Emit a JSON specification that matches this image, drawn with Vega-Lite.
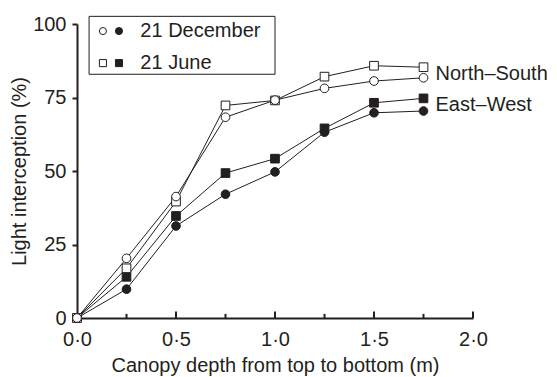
{
  "$schema": "https://vega.github.io/schema/vega-lite/v6.json",
  "width": 396,
  "height": 294,
  "autosize": {"type": "none"},
  "padding": {"left": 77, "top": 24, "right": 84, "bottom": 59},
  "background": "white",
  "config": {
    "view": {"stroke": null},
    "font": "Liberation Sans",
    "text": {"font": "Liberation Sans"}
  },
  "datasets": {
    "main": [
      {"series": "EW Jun", "orient": "EW", "date": "Jun", "depth": 0, "value": 0},
      {"series": "EW Jun", "orient": "EW", "date": "Jun", "depth": 0.25, "value": 14.0},
      {"series": "EW Jun", "orient": "EW", "date": "Jun", "depth": 0.5, "value": 34.7},
      {"series": "EW Jun", "orient": "EW", "date": "Jun", "depth": 0.75, "value": 49.3},
      {"series": "EW Jun", "orient": "EW", "date": "Jun", "depth": 1.0, "value": 54.2},
      {"series": "EW Jun", "orient": "EW", "date": "Jun", "depth": 1.25, "value": 64.5},
      {"series": "EW Jun", "orient": "EW", "date": "Jun", "depth": 1.5, "value": 73.2},
      {"series": "EW Jun", "orient": "EW", "date": "Jun", "depth": 1.75, "value": 74.7},
      {"series": "EW Dec", "orient": "EW", "date": "Dec", "depth": 0, "value": 0},
      {"series": "EW Dec", "orient": "EW", "date": "Dec", "depth": 0.25, "value": 9.8},
      {"series": "EW Dec", "orient": "EW", "date": "Dec", "depth": 0.5, "value": 31.3},
      {"series": "EW Dec", "orient": "EW", "date": "Dec", "depth": 0.75, "value": 42.1},
      {"series": "EW Dec", "orient": "EW", "date": "Dec", "depth": 1.0, "value": 49.7},
      {"series": "EW Dec", "orient": "EW", "date": "Dec", "depth": 1.25, "value": 63.2},
      {"series": "EW Dec", "orient": "EW", "date": "Dec", "depth": 1.5, "value": 69.8},
      {"series": "EW Dec", "orient": "EW", "date": "Dec", "depth": 1.75, "value": 70.4},
      {"series": "NS Jun", "orient": "NS", "date": "Jun", "depth": 0, "value": 0},
      {"series": "NS Jun", "orient": "NS", "date": "Jun", "depth": 0.25, "value": 16.9},
      {"series": "NS Jun", "orient": "NS", "date": "Jun", "depth": 0.5, "value": 39.6},
      {"series": "NS Jun", "orient": "NS", "date": "Jun", "depth": 0.75, "value": 72.3},
      {"series": "NS Jun", "orient": "NS", "date": "Jun", "depth": 1.0, "value": 74.0},
      {"series": "NS Jun", "orient": "NS", "date": "Jun", "depth": 1.25, "value": 82.1},
      {"series": "NS Jun", "orient": "NS", "date": "Jun", "depth": 1.5, "value": 85.8},
      {"series": "NS Jun", "orient": "NS", "date": "Jun", "depth": 1.75, "value": 85.3},
      {"series": "NS Dec", "orient": "NS", "date": "Dec", "depth": 0, "value": 0},
      {"series": "NS Dec", "orient": "NS", "date": "Dec", "depth": 0.25, "value": 20.3},
      {"series": "NS Dec", "orient": "NS", "date": "Dec", "depth": 0.5, "value": 41.3},
      {"series": "NS Dec", "orient": "NS", "date": "Dec", "depth": 0.75, "value": 68.3},
      {"series": "NS Dec", "orient": "NS", "date": "Dec", "depth": 1.0, "value": 74.1},
      {"series": "NS Dec", "orient": "NS", "date": "Dec", "depth": 1.25, "value": 78.1},
      {"series": "NS Dec", "orient": "NS", "date": "Dec", "depth": 1.5, "value": 80.6},
      {"series": "NS Dec", "orient": "NS", "date": "Dec", "depth": 1.75, "value": 81.7}
    ],
    "majorTicks": [{"depth": 0.5}, {"depth": 1.0}, {"depth": 1.5}, {"depth": 2.0}],
    "minorTicks": [{"depth": 0.25}, {"depth": 0.75}, {"depth": 1.25}, {"depth": 1.75}],
    "box": [{"depth": 0.061, "depth2": 1.0, "value": 82.9, "value2": 102.6}],
    "legendSymbols": [
      {"depth": 0.131, "value": 97.6, "date": "Dec", "orient": "NS"},
      {"depth": 0.212, "value": 97.6, "date": "Dec", "orient": "EW"},
      {"depth": 0.131, "value": 86.7, "date": "Jun", "orient": "NS"},
      {"depth": 0.212, "value": 86.7, "date": "Jun", "orient": "EW"}
    ],
    "legendText": [
      {"depth": 0.32, "value": 97.6, "label": "21 December"},
      {"depth": 0.32, "value": 86.7, "label": "21 June"}
    ],
    "seriesLabels": [
      {"depth": 1.75, "value": 83.0, "label": "North–South"},
      {"depth": 1.75, "value": 72.6, "label": "East–West"}
    ]
  },
  "layer": [
    {
      "data": {"name": "main"},
      "mark": {"type": "line", "color": "#231f20", "strokeWidth": 1},
      "encoding": {
        "x": {
          "field": "depth", "type": "quantitative",
          "scale": {"domain": [0, 2], "nice": false, "zero": false},
          "axis": {
            "title": "Canopy depth from top to bottom (m)",
            "values": [0, 0.5, 1, 1.5, 2],
            "labelExpr": "replace(format(datum.value, '.1f'), '.', '·')",
            "grid": false,
            "domainColor": "#231f20", "domainWidth": 2,
            "ticks": false,
            "labelPadding": 11, "labelFontSize": 20, "labelColor": "#231f20",
            "labelFlush": false, "labelOverlap": false,
            "titleFontSize": 20, "titleFontWeight": "normal", "titleColor": "#231f20",
            "titlePadding": 6
          }
        },
        "y": {
          "field": "value", "type": "quantitative",
          "scale": {"domain": [0, 100], "nice": false},
          "axis": {
            "title": "Light interception (%)",
            "values": [0, 12.5, 25, 37.5, 50, 62.5, 75, 87.5, 100],
            "labelExpr": "datum.value % 25 == 0 ? format(datum.value, 'd') : ''",
            "grid": false,
            "domainColor": "#231f20", "domainWidth": 2,
            "tickColor": "#231f20", "tickWidth": 2,
            "tickSize": {"condition": {"test": "datum.value % 25 != 0", "value": 3}, "value": 5},
            "labelPadding": 6, "labelFontSize": 20, "labelColor": "#231f20",
            "labelFlush": false, "labelOverlap": false,
            "titleFontSize": 20, "titleFontWeight": "normal", "titleColor": "#231f20",
            "titlePadding": 3
          }
        },
        "detail": {"field": "series"}
      }
    },
    {
      "data": {"name": "majorTicks"},
      "mark": {"type": "rule", "color": "#231f20", "strokeWidth": 2},
      "encoding": {
        "x": {"field": "depth", "type": "quantitative"},
        "y": {"datum": 0, "type": "quantitative"},
        "y2": {"datum": 2.2}
      }
    },
    {
      "data": {"name": "minorTicks"},
      "mark": {"type": "rule", "color": "#231f20", "strokeWidth": 2},
      "encoding": {
        "x": {"field": "depth", "type": "quantitative"},
        "y": {"datum": 0, "type": "quantitative"},
        "y2": {"datum": 1.4}
      }
    },
    {
      "data": {"name": "main"},
      "mark": {"type": "point", "filled": true, "stroke": "#231f20", "strokeWidth": 1, "size": 75, "opacity": 1},
      "encoding": {
        "x": {"field": "depth", "type": "quantitative"},
        "y": {"field": "value", "type": "quantitative"},
        "shape": {"field": "date", "type": "nominal", "scale": {"domain": ["Dec", "Jun"], "range": ["circle", "square"]}, "legend": null},
        "fill": {"field": "orient", "type": "nominal", "scale": {"domain": ["NS", "EW"], "range": ["white", "#231f20"]}, "legend": null}
      }
    },
    {
      "data": {"name": "box"},
      "mark": {"type": "rect", "fill": "white", "stroke": "#231f20", "strokeWidth": 1},
      "encoding": {
        "x": {"field": "depth", "type": "quantitative"},
        "x2": {"field": "depth2"},
        "y": {"field": "value", "type": "quantitative"},
        "y2": {"field": "value2"}
      }
    },
    {
      "data": {"name": "legendSymbols"},
      "mark": {"type": "point", "filled": true, "stroke": "#231f20", "strokeWidth": 1, "size": 50, "opacity": 1},
      "encoding": {
        "x": {"field": "depth", "type": "quantitative"},
        "y": {"field": "value", "type": "quantitative"},
        "shape": {"field": "date", "type": "nominal", "legend": null},
        "fill": {"field": "orient", "type": "nominal", "legend": null}
      }
    },
    {
      "data": {"name": "legendText"},
      "mark": {"type": "text", "align": "left", "baseline": "middle", "fontSize": 20, "color": "#231f20"},
      "encoding": {
        "x": {"field": "depth", "type": "quantitative"},
        "y": {"field": "value", "type": "quantitative"},
        "text": {"field": "label"}
      }
    },
    {
      "data": {"name": "seriesLabels"},
      "mark": {"type": "text", "align": "left", "baseline": "middle", "fontSize": 20, "dx": 12, "color": "#231f20"},
      "encoding": {
        "x": {"field": "depth", "type": "quantitative"},
        "y": {"field": "value", "type": "quantitative"},
        "text": {"field": "label"}
      }
    }
  ]
}
